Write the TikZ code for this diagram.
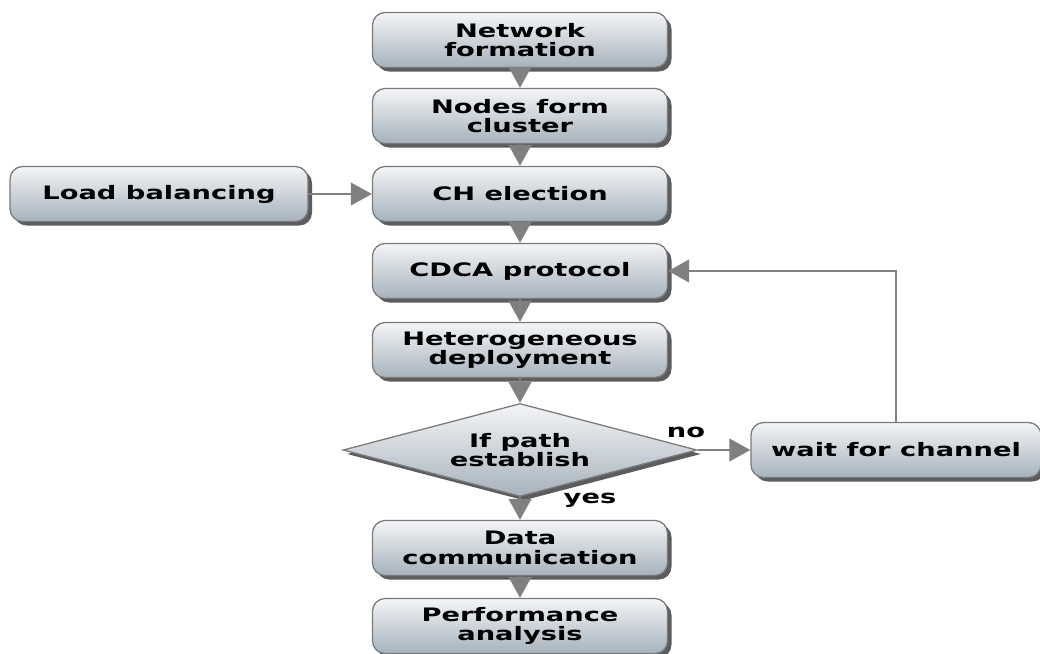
\documentclass[tikz,border=0pt]{standalone}
\usepackage{fontspec}
\newfontfamily\flowfont{DejaVu Sans}[FakeStretch=1.47]
\usetikzlibrary{arrows.meta,shapes.geometric,shadows}

\definecolor{boxtop}{HTML}{F4F5F7}
\definecolor{boxbottom}{HTML}{A6B2BC}
\definecolor{boxline}{HTML}{7A7A7A}
\definecolor{linkgray}{HTML}{808080}

\tikzset{
    stage/.style={rectangle, rounded corners=9pt, draw=boxline, line width=0.9pt,
        top color=boxtop, bottom color=boxbottom,
        minimum width=7.375cm, minimum height=1.375cm, align=center,
        font=\flowfont\bfseries\fontsize{13.2}{13.8}\selectfont,
        drop shadow={shadow xshift=0.1cm, shadow yshift=-0.1cm, fill=black!75, opacity=0.85}},
    test/.style={diamond, aspect=3.8, draw=boxline, line width=0.9pt,
        top color=boxtop, bottom color=boxbottom, inner sep=0pt,
        minimum width=8.85cm, minimum height=2.325cm, align=center,
        font=\flowfont\bfseries\fontsize{13.2}{13.8}\selectfont,
        drop shadow={shadow xshift=0.1cm, shadow yshift=-0.1cm, fill=black!75, opacity=0.85}},
    link/.style={draw=linkgray, line width=2.1pt,
        -{Triangle[length=15pt, width=16pt, fill=linkgray]}},
    tag/.style={font=\flowfont\bfseries\fontsize{13.2}{13.8}\selectfont}
}

\begin{document}
\begin{tikzpicture}
\useasboundingbox (0,0) rectangle (26,-16.325);

\node[stage] (net) at (13,-1){Network\\formation};
\node[stage] (clus) at (13,-2.9){Nodes form\\cluster};
\node[stage] (ch) at (13,-4.85){CH election};
\node[stage] (cdca) at (13,-6.775){CDCA protocol};
\node[stage] (het) at (13,-8.75){Heterogeneous\\deployment};
\node[test] (path) at (13,-11.25){If path\\establish};
\node[stage] (data) at (13,-13.7){Data\\communication};
\node[stage] (perf) at (13,-15.65){Performance\\analysis};

\node[stage, minimum width=7.45cm] (load) at (3.975,-4.85){Load balancing};
\node[stage, minimum width=7.25cm] (wait) at (22.4,-11.25){wait for channel};

\node[tag] (no) at (17.15,-10.8){no};
\node[tag] (yes) at (14.75,-12.5){yes};

\draw[link](net)--(clus);
\draw[link](clus)--(ch);
\draw[link](ch)--(cdca);
\draw[link](cdca)--(het);
\draw[link](het)--(path);
\draw[link](path)--(data);
\draw[link](data)--(perf);

\draw[link](load)--(ch);
\draw[link](path.east)--(wait.west);
\draw[link](wait.north)|-(cdca.east);

\end{tikzpicture}
\end{document}
